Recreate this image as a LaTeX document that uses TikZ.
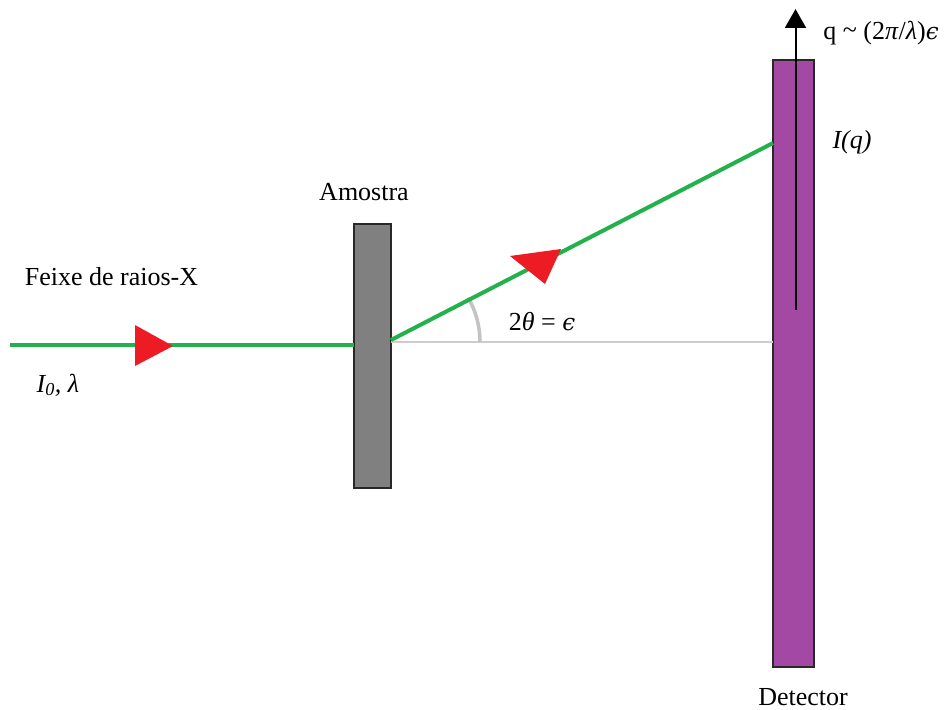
\documentclass[tikz,border=0pt]{standalone}
\usepackage{fontspec}
\setmainfont{Liberation Serif}
\newfontfamily\greekserif{DejaVu Serif}
\usetikzlibrary{arrows.meta}
\definecolor{beamgreen}{RGB}{34,177,76}
\definecolor{tipred}{RGB}{237,28,36}
\definecolor{samplegray}{RGB}{128,128,128}
\definecolor{detpurple}{RGB}{163,73,164}
\definecolor{bordergray}{RGB}{40,40,40}
\definecolor{refgray}{RGB}{205,205,205}
\definecolor{arcgray}{RGB}{195,195,195}
\newcommand{\lunateps}{{\greekserif\itshape\fontsize{23}{28}\selectfont ϵ}}
\tikzset{
  lbl/.style={font=\fontsize{26}{30}\selectfont, inner sep=0pt, anchor=base, text depth=0pt},
  slab/.style={draw=bordergray, line width=2pt, minimum width=#1, inner sep=0pt, outer sep=0pt},
  beam/.style={draw=beamgreen, line width=4pt},
  reftip/.style={fill=tipred},
  refline/.style={draw=refgray, line width=2pt},
  anglearc/.style={draw=arcgray, line width=3.5pt},
  qaxis/.style={draw=black, line width=2pt, -{Triangle[width=21pt,length=19pt]}}
}
\begin{document}
\begin{tikzpicture}[x=1pt,y=-1pt]
\useasboundingbox (0,0) rectangle (944,709);
% sample and detector
\node[slab=37pt, fill=samplegray, minimum height=264pt] (sample) at (372.5,356) {};
\node[slab=41pt, fill=detpurple, minimum height=607pt] (detector) at (793.5,363.5) {};
% coordinates
\coordinate (src) at (10,345);
\coordinate (out) at (391,340);
\coordinate (refstart) at (391,342);
\coordinate (spot) at (773,143);
\coordinate (refend) at (773,342);
\coordinate (qbase) at (795.5,310);
\coordinate (qtip) at (795.5,9);
% reference line and angle
\draw[refline] (refstart) -- (refend);
\draw[anglearc] ([xshift=89pt]refstart) arc[start angle=0, end angle=30, radius=89pt];
% beams
\draw[beam] (src) -- (src -| sample.west);
\draw[beam] (out) -- (spot);
% red triangles
\fill[reftip] (135,325) -- (135,366) -- (173,346) -- cycle;
\fill[reftip] (510,256) -- (561,249) -- (545,284) -- cycle;
% q axis
\draw[qaxis] (qbase) -- (qtip);
% labels
\node[lbl] (feixe) at (111.5,285) {Feixe de raios-X};
\node[lbl] (ilam) at (58,392) {\textit{I\textsubscript{0}, λ}};
\node[lbl] (amostra) at (364,200) {Amostra};
\node[lbl] (detlbl) at (803,705) {Detector};
\node[lbl] (iq) at (852,148) {\textit{I(q)}};
\node[lbl] (qlbl) at (881,40) {q \raisebox{0.15ex}{\textasciitilde} (2\textit{π}/\textit{λ})\lunateps};
\node[lbl] (ang) at (542,330) {2\textit{θ} = \lunateps};
\end{tikzpicture}
\end{document}
